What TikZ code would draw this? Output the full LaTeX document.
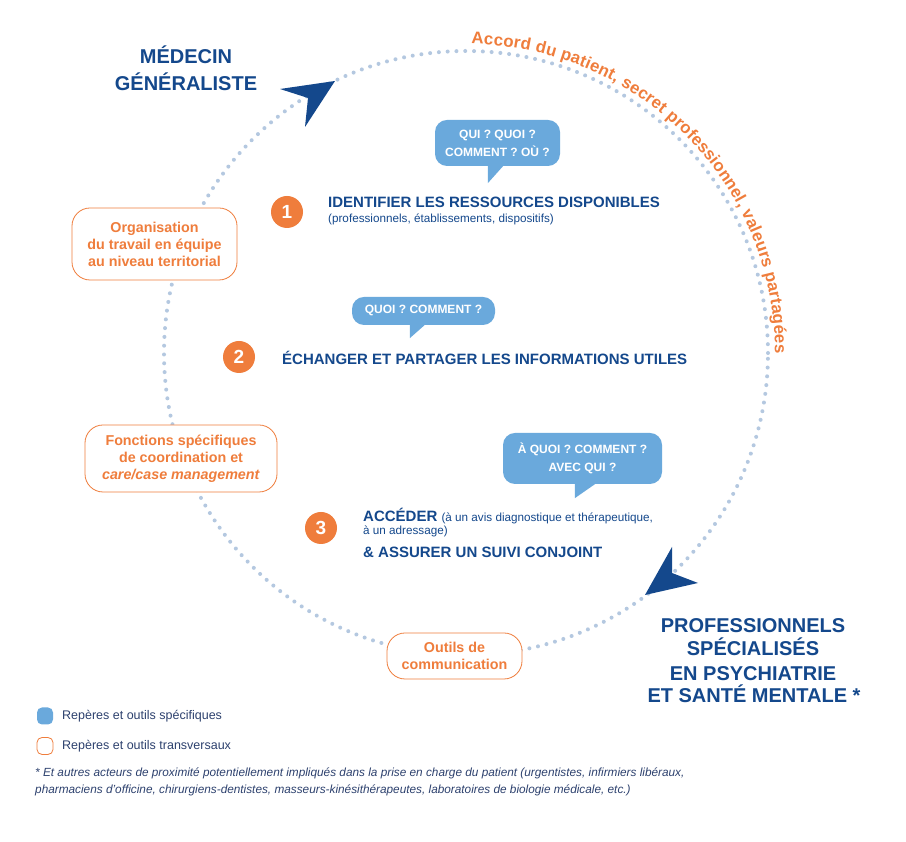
\documentclass[tikz,border=0pt]{standalone}
\usepackage{fontspec}
\setmainfont{Liberation Sans}
\usetikzlibrary{decorations.text,calc}
\definecolor{navy}{RGB}{20,72,140}
\definecolor{orangeC}{RGB}{239,125,60}
\definecolor{bubblec}{RGB}{106,169,220}
\definecolor{dotc}{RGB}{180,200,224}
\definecolor{notec}{RGB}{45,65,110}
\newcommand\myfs[2]{\fontsize{#1}{#2}\selectfont}
\newcommand\arcfont{\myfs{16.8}{17}\bfseries\color{orangeC}}
\tikzset{
  titlet/.style={font=\myfs{20}{24}\bfseries, text=navy, inner sep=0, anchor=base},
  headt/.style={font=\myfs{15}{18}\bfseries, text=navy, inner sep=0, anchor=base west},
  subt/.style={font=\myfs{11.7}{14}, text=navy, inner sep=0, anchor=base west},
  numc/.style={circle, fill=orangeC, minimum size=32, inner sep=0, text=white, font=\myfs{19}{20}\bfseries},
  obox/.style={draw=orangeC, line width=0.8, rounded corners=18, fill=white, text=orangeC, font=\myfs{14.3}{17}\bfseries, align=center, inner sep=0},
  bub/.style={fill=bubblec, rounded corners=12, text=white, font=\myfs{12}{18}\bfseries, align=center, inner sep=0},
  dotring/.style={draw=dotc, line width=4, dash pattern=on 0pt off 8.8pt, line cap=round},
  arrowhd/.style={fill=navy},
  legt/.style={font=\myfs{12.5}{14}, text=notec, inner sep=0, anchor=base west},
  notet/.style={font=\myfs{11.8}{14}\itshape, text=notec, inner sep=0, anchor=base west}
}
\begin{document}
\begin{tikzpicture}[x=1pt,y=1pt]
\fill[white] (0,0) rectangle (906,842);
\useasboundingbox (0,0) rectangle (906,842);
\coordinate (C) at (466,489);
% dotted ring
\draw[dotring] (C) circle[radius=302];
% text along the ring
\path[decorate, decoration={text along path, text align={fit to path},
  text={|\arcfont|Accord du patient, secret professionnel, valeurs partagées}}]
  ($(C)+(89:309)$) arc[start angle=89, end angle=0, radius=309];
% arrowheads
\coordinate (a1tip) at (335,761);
\fill[arrowhd] (a1tip) -- (280,753) -- (308,744) -- (305,715) -- cycle;
\coordinate (a2tip) at (645,247);
\fill[arrowhd] (a2tip) -- (672,295) -- (672,269) -- (698,259) -- cycle;
% titles
\node[titlet] (t1) at (186,778) {MÉDECIN};
\node[titlet] (t2) at (186,751) {GÉNÉRALISTE};
\node[titlet] (p1) at (753,209) {PROFESSIONNELS};
\node[titlet] (p2) at (753,186) {SPÉCIALISÉS};
\node[titlet] (p3) at (753,161) {EN PSYCHIATRIE};
\node[titlet] (p4) at (754,139) {ET SANTÉ MENTALE *};
% orange boxes
\node[obox, minimum width=165, minimum height=72] (box1) at (154.5,598)
  {Organisation\\du travail en équipe\\au niveau territorial};
\node[obox, minimum width=192, minimum height=67] (box2) at (181,383.5)
  {Fonctions spécifiques\\de coordination et\\\textit{care/case management}};
\node[obox, minimum width=135, minimum height=46, font=\myfs{14.3}{17.5}\bfseries] (box3) at (454.5,186)
  {Outils de\\communication};
% bubbles
\node[bub, minimum width=125, minimum height=46] (b1) at (497.5,699) {QUI ? QUOI ?\\COMMENT ? OÙ ?};
\fill[bubblec] ($(b1.south west)+(53,2)$) -- ($(b1.south west)+(53,-17)$) -- ($(b1.south west)+(70,2)$) -- cycle;
\node[bub, minimum width=143, minimum height=28] (b2) at (423.5,531) {QUOI ? COMMENT ?};
\fill[bubblec] ($(b2.south west)+(58,2)$) -- ($(b2.south west)+(58,-13)$) -- ($(b2.south west)+(75,2)$) -- cycle;
\node[bub, minimum width=159, minimum height=51] (b3) at (582.5,383.5) {À QUOI ? COMMENT ?\\AVEC QUI ?};
\fill[bubblec] ($(b3.south west)+(72,2)$) -- ($(b3.south west)+(72,-14)$) -- ($(b3.south west)+(95,2)$) -- cycle;
% steps
\node[numc] (n1) at (287,630) {1};
\node[headt] (s1) at (328,634) {IDENTIFIER LES RESSOURCES DISPONIBLES};
\node[subt] (s1b) at (328,619) {(professionnels, établissements, dispositifs)};
\node[numc] (n2) at (239,485) {2};
\node[headt] (s2) at (282,477) {ÉCHANGER ET PARTAGER LES INFORMATIONS UTILES};
\node[numc] (n3) at (321,314) {3};
\node[headt] (s3) at (363,320) {ACCÉDER {\myfs{11.7}{14}\mdseries (à un avis diagnostique et thérapeutique,}};
\node[subt] (s3b) at (363,307) {à un adressage)};
\node[headt] (s3c) at (363,284) {\& ASSURER UN SUIVI CONJOINT};
% legend
\node[fill=bubblec, rounded corners=5, minimum width=16, minimum height=17, inner sep=0] (l1) at (45,126) {};
\node[legt] (l1t) at (62,122) {Repères et outils spécifiques};
\node[draw=orangeC, line width=0.8, rounded corners=5, minimum width=16, minimum height=17, inner sep=0] (l2) at (45,96) {};
\node[legt] (l2t) at (62,92) {Repères et outils transversaux};
% footnote
\node[notet] (f1) at (35,65) {* Et autres acteurs de proximité potentiellement impliqués dans la prise en charge du patient (urgentistes, infirmiers libéraux,};
\node[notet] (f2) at (35,48) {pharmaciens d’officine, chirurgiens-dentistes, masseurs-kinésithérapeutes, laboratoires de biologie médicale, etc.)};
\end{tikzpicture}
\end{document}
